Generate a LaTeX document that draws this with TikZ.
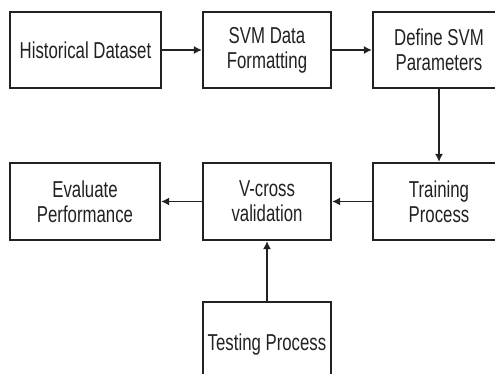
\documentclass[tikz,border=0pt]{standalone}
\usepackage{fontspec}
\setmainfont[FakeStretch=0.73]{Liberation Sans}
\usetikzlibrary{arrows.meta}
\definecolor{ink}{HTML}{222222}
\begin{document}
\begin{tikzpicture}[x=1pt,y=-1pt,
  stepbox/.style={draw=ink, line width=2.3pt, fill=white, align=center,
    text=ink, inner sep=0pt,
    font=\fontsize{23}{25}\selectfont},
  flow/.style={draw=ink, line width=1.3pt,
    -{Latex[length=8pt,width=8pt]}}]
  \useasboundingbox (0,0) rectangle (495,374);
  \fill[white] (0,0) rectangle (495,374);

  % top row
  \node[stepbox, minimum width=151pt, minimum height=76pt] (hist) at (85.5,50) {Historical Dataset};
  \node[stepbox, minimum width=128pt, minimum height=76pt] (fmt)  at (267,50) {SVM Data\\Formatting};
  \node[stepbox, minimum width=132pt, minimum height=76pt] (par)  at (439,50) {Define SVM\\Parameters};

  % bottom row
  \node[stepbox, minimum width=150pt, minimum height=77pt] (eval)  at (85,201.5) {Evaluate\\Performance};
  \node[stepbox, minimum width=128pt, minimum height=77pt] (vcv)   at (267,201.5) {V-cross\\validation};
  \node[stepbox, minimum width=132pt, minimum height=77pt] (train) at (439,201.5) {Training\\Process};

  % testing box, running off the lower edge
  \node[stepbox, minimum width=128pt, minimum height=86pt] (test) at (267,345) {Testing Process};

  % connectors
  \draw[flow] (hist) -- (fmt);
  \draw[flow] (fmt) -- (par);
  \draw[flow] (par) -- (train);
  \draw[flow] (train) -- (vcv);
  \draw[flow] (vcv) -- (eval);
  \draw[flow] (test) -- (vcv);
\end{tikzpicture}
\end{document}
